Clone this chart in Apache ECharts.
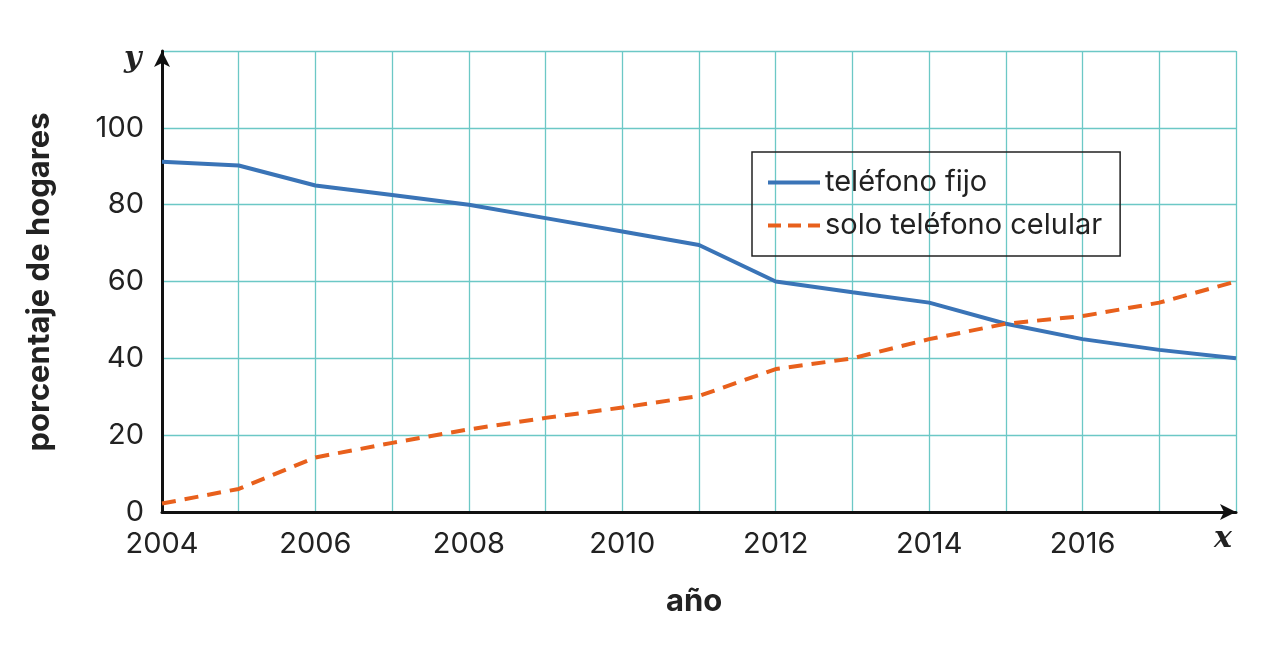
<!DOCTYPE html>
<html>
<head>
<meta charset="UTF-8"/>
<script src="https://cdn.jsdelivr.net/npm/echarts@6/dist/echarts.min.js"></script>
<style>body{margin:0}#c{width:1270px;height:650px}</style>
</head>
<body>
<div id="c"></div>
<script>
var years = [2004,2005,2006,2007,2008,2009,2010,2011,2012,2013,2014,2015,2016,2017,2018];
var fijo = [91.2,90.2,85,82.5,80,76.5,73,69.5,60,57.2,54.5,49,45,42.2,40];
var celular = [2.2,6,14.2,18,21.5,24.5,27.2,30.2,37.2,40,45,49,51,54.5,60];

var chart = echarts.init(document.getElementById('c'));
var font = 'Inter, "Noto Sans", sans-serif';
chart.setOption({
    animation: false,
    grid: {left: 162, top: 51, right: 34, bottom: 138},
    legend: {
        left: 752, top: 152, orient: 'vertical',
        padding: [16, 18, 16, 16], itemGap: 14,
        borderColor: '#222', borderWidth: 1.5,
        itemWidth: 52, itemHeight: 4,
        symbolKeepAspect: false,
        textStyle: {fontSize: 29, color: '#222', fontFamily: font},
        data: [
            {name: 'teléfono fijo', icon: 'path://M0,0H52V4H0Z'},
            {name: 'solo teléfono celular', icon: 'path://M0,0H13V4H0Z M20,0H33V4H20Z M40,0H52V4H40Z'}
        ]
    },
    xAxis: {
        type: 'value', min: 2004, max: 2018, interval: 1,
        axisLine: {lineStyle: {color: '#111', width: 3}, symbol: ['none', 'arrow'], symbolSize: [12, 16]},
        axisTick: {show: false},
        splitLine: {lineStyle: {color: '#6cc8c6', width: 1.3}},
        axisLabel: {
            fontSize: 29, color: '#222', fontFamily: font, margin: 18,
            formatter: function (v) { return (v % 2 === 0 && v < 2018) ? String(v) : ''; }
        }
    },
    yAxis: {
        type: 'value', min: 0, max: 120, interval: 20,
        axisLine: {show: true, lineStyle: {color: '#111', width: 3}, symbol: ['none', 'arrow'], symbolSize: [12, 16]},
        axisTick: {show: false},
        splitLine: {lineStyle: {color: '#6cc8c6', width: 1.3}},
        axisLabel: {
            fontSize: 29, color: '#222', fontFamily: font, margin: 18,
            formatter: function (v) { return v < 120 ? String(v) : ''; }
        }
    },
    series: [{
        name: 'teléfono fijo', type: 'line', symbol: 'none',
        data: years.map(function (y, i) { return [y, fijo[i]]; }),
        lineStyle: {color: '#3a74b7', width: 4}, itemStyle: {color: '#3a74b7'}
    }, {
        name: 'solo teléfono celular', type: 'line', symbol: 'none',
        data: years.map(function (y, i) { return [y, celular[i]]; }),
        lineStyle: {color: '#e8601c', width: 4, type: [14, 9]}, itemStyle: {color: '#e8601c'}
    }],
    graphic: [
        {type: 'text', left: 124, top: 44, style: {text: 'y', font: 'italic bold 30px "DejaVu Serif", serif', fill: '#222'}},
        {type: 'text', left: 1214, top: 524, style: {text: 'x', font: 'italic bold 30px "DejaVu Serif", serif', fill: '#222'}},
        {type: 'text', left: 666, top: 586, style: {text: 'año', font: 'bold 31px ' + font, fill: '#222'}},
        {type: 'text', x: 40, y: 282, rotation: Math.PI / 2, style: {text: 'porcentaje de hogares', font: 'bold 31px ' + font, fill: '#222', align: 'center', verticalAlign: 'middle'}}
    ]
});
</script>
</body>
</html>
